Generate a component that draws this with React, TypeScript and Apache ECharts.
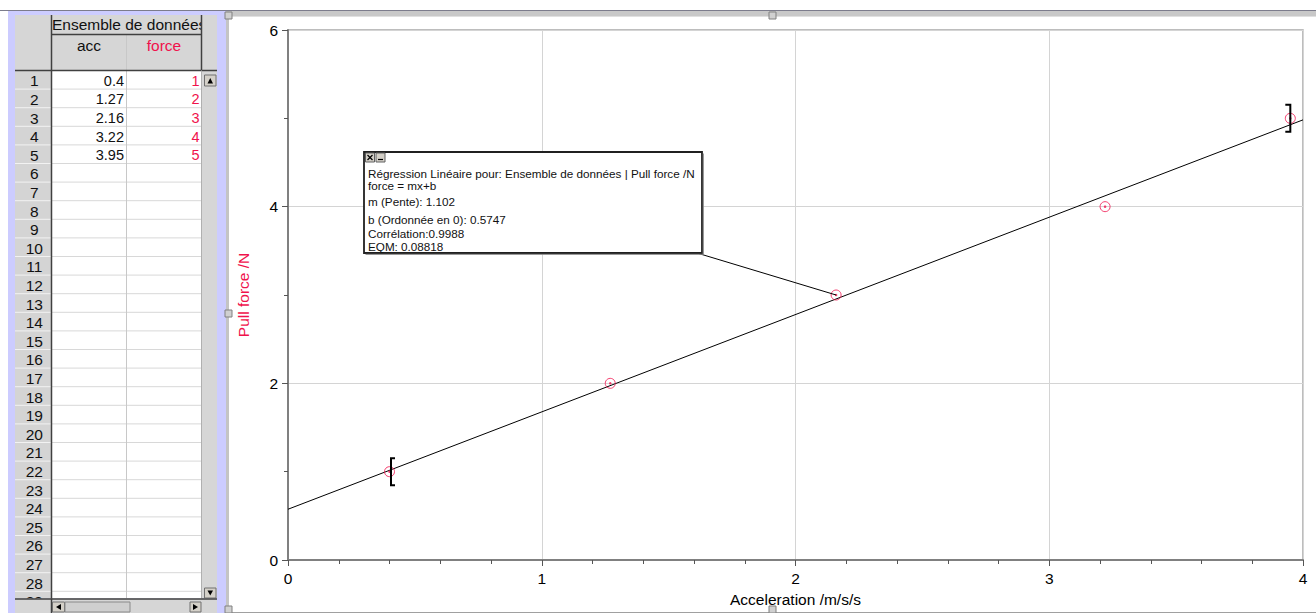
import React, { useEffect, useRef } from "react";
import * as echarts from "echarts";

// ---------- data ----------
const datasetName = "Ensemble de données";
const xColumn = "acc";
const yColumn = "force";
const acc = [0.4, 1.27, 2.16, 3.22, 3.95];
const force = [1, 2, 3, 4, 5];
const rowNumbers = [1, 2, 3, 4, 5, 6, 7, 8, 9, 10, 11, 12, 13, 14, 15, 16, 17, 18, 19, 20, 21, 22, 23, 24, 25, 26, 27, 28, 29];
const xAxisName = "Acceleration /m/s/s";
const yAxisName = "Pull force /N";
const xMin = 0;
const xMax = 4;
const xStep = 1;
const yMin = 0;
const yMax = 6;
const yStep = 2;
const fitSlope = 1.102;
const fitIntercept = 0.5747;
const fitCorrelation = 0.9988;
const fitRmse = 0.08818;
const annotatedPoint = 2;

const RED = "#f0124c";
const FONT = "'Liberation Sans', Arial, sans-serif";

function rect(x: number, y: number, w: number, h: number, fill: string, z = 10, stroke?: string, lw = 1) {
  return { type: "rect", z, silent: true, shape: { x, y, width: w, height: h }, style: { fill, stroke: stroke || null, lineWidth: lw } };
}
function line(x1: number, y1: number, x2: number, y2: number, stroke: string, lw = 1, z = 12) {
  return { type: "line", z, silent: true, shape: { x1, y1, x2, y2 }, style: { stroke, lineWidth: lw } };
}
function text(t: string, x: number, y: number, opts: any = {}, z = 14) {
  return {
    type: "text",
    z,
    silent: true,
    x,
    y,
    style: {
      text: t,
      fill: opts.fill || "#000",
      fontSize: opts.fontSize || 15,
      fontFamily: FONT,
      textAlign: opts.align || "left",
      textVerticalAlign: "middle",
    },
  };
}
function tri(points: number[][], z = 16) {
  return { type: "polygon", z, silent: true, shape: { points }, style: { fill: "#000" } };
}

function buildGraphic(pt: number[]) {
  const g: any[] = [];
  // ---- window chrome ----
  g.push(rect(8, 10, 218, 603, "#ccccff", 5));
  g.push(line(0, 10.5, 1316, 10.5, "#7c7c8c", 1, 6));
  g.push(rect(226, 11, 3, 602, "#c4c4c4", 6));
  g.push(rect(229, 11, 1087, 5, "#c8c8c8", 6));
  g.push(line(229, 16.5, 1316, 16.5, "#e0e0e0", 1, 6));
  g.push(line(229, 612.5, 1316, 612.5, "#a0a0a0", 1, 6));

  // ---- table ----
  const L = 15, RH = 51.5, AR = 126.5, FR = 201.5, SR = 217;
  const top = 15, mid = 34.5, hdrBot = 70.5, rowTop = 71, rowH = 18.6, bottom = 598.5;
  g.push(rect(L, top, SR - L, hdrBot - top, "#d6d6d6", 8));
  g.push(rect(L, rowTop, RH - L, bottom - rowTop, "#d4d4d4", 8));
  g.push(rect(RH, rowTop, FR - RH, bottom - rowTop, "#ffffff", 8));
  g.push(rect(FR, rowTop, SR - FR, bottom - rowTop, "#d6d6d6", 8));

  rowNumbers.forEach((n, i) => {
    const y0 = rowTop + i * rowH;
    const yb = y0 + rowH;
    if (yb < bottom) {
      g.push(line(L, yb - 0.5, RH, yb - 0.5, "#f2f2f2", 1, 9));
      g.push(line(RH, yb - 0.5, FR, yb - 0.5, "#d8d8d8", 1, 9));
    }
    g.push(text(String(n), (L + RH) / 2 + 1, y0 + rowH / 2 + 0.5, { fontSize: 15.5, align: "center", fill: "#111" }, 11));
    if (i < acc.length) {
      g.push(text(String(acc[i]), AR - 2.5, y0 + rowH / 2 + 0.5, { fontSize: 14.5, align: "right", fill: "#111" }, 11));
      g.push(text(String(force[i]), FR - 2, y0 + rowH / 2 + 0.5, { fontSize: 14.5, align: "right", fill: RED }, 11));
    }
  });
  g.push(line(AR, mid, AR, bottom, "#c8c8c8", 1, 9));
  // headers
  g.push(text(datasetName, RH + 0.5, 24.5, { fontSize: 15.5, fill: "#111" }, 11));
  g.push(rect(FR, top, SR - FR, mid - top, "#d6d6d6", 12));
  g.push(text(xColumn, (RH + AR) / 2, 45, { fontSize: 15.5, align: "center", fill: "#111" }, 11));
  g.push(text(yColumn, (AR + FR) / 2, 45, { fontSize: 15.5, align: "center", fill: RED }, 11));
  g.push(line(RH, mid, FR, mid, "#404040", 1.5, 13));
  g.push(line(L, hdrBot, SR, hdrBot, "#404040", 1.5, 13));
  g.push(line(RH, top, RH, 612, "#404040", 1.5, 13));
  g.push(line(FR, top, FR, hdrBot, "#404040", 1.5, 13));
  g.push(line(FR, hdrBot, FR, bottom, "#b0b0b0", 1, 13));
  // vertical scrollbar
  g.push(rect(204.5, 75, 11.5, 11, "#d4d0c8", 14, "#707070"));
  g.push(tri([[207.5, 83.5], [213, 83.5], [210.25, 78]]));
  g.push(rect(204.5, 588, 11.5, 10, "#d4d0c8", 14, "#707070"));
  g.push(tri([[207.5, 590.5], [213, 590.5], [210.25, 595.5]]));
  // horizontal scrollbar
  g.push(rect(L, bottom, SR - L, 613 - bottom, "#d6d6d6", 20));
  g.push(line(L, bottom + 0.5, SR, bottom + 0.5, "#404040", 1.5, 21));
  g.push(line(RH, bottom, RH, 613, "#404040", 1.5, 21));
  g.push(rect(52.5, 602, 12, 10, "#d4d0c8", 21, "#707070"));
  g.push(tri([[61, 604], [61, 610], [56, 607]], 22));
  g.push(rect(65, 602, 65, 10, "#cfcfcf", 21, "#8a8a8a"));
  g.push(rect(190, 602, 11, 10, "#d4d0c8", 21, "#707070"));
  g.push(tri([[193, 604], [193, 610], [198, 607]], 22));

  // ---- resize handles ----
  [[225, 12], [769, 12], [225, 310], [769, 606], [225, 606]].forEach(([x, y]) => {
    g.push(rect(x, y, 7, 7, "#d0d0d0", 30, "#808080"));
  });

  // ---- regression annotation ----
  const bx = 364, by = 152, bw = 338, bh = 101;
  g.push(line(bx + bw - 5, by + bh, pt[0], pt[1], "#000", 1, 90));
  g.push(rect(bx, by, bw, bh, "#ffffff", 100, "#202020", 1.8));
  g.push(line(bx + 1.5, by + bh + 1.3, bx + bw + 1.3, by + bh + 1.3, "#808080", 1, 100));
  g.push(line(bx + bw + 1.3, by + 1.5, bx + bw + 1.3, by + bh + 1.3, "#808080", 1, 100));
  g.push(rect(365.5, 153, 9, 9, "#d4d0c8", 101, "#606060"));
  g.push(line(367.5, 155, 372.5, 160, "#000", 1.2, 102));
  g.push(line(372.5, 155, 367.5, 160, "#000", 1.2, 102));
  g.push(rect(376, 153, 9, 9, "#d4d0c8", 101, "#606060"));
  g.push(line(378, 159.5, 383, 159.5, "#000", 1.2, 102));
  const lines = [
    `Régression Linéaire pour: ${datasetName} | ${yAxisName}`,
    `${yColumn} = mx+b`,
    `m (Pente): ${fitSlope}`,
    `b (Ordonnée en 0): ${fitIntercept}`,
    `Corrélation:${fitCorrelation}`,
    `EQM: ${fitRmse}`,
  ];
  const ys = [173, 185, 201.5, 219, 233, 246];
  lines.forEach((t, i) => g.push(text(t, 368, ys[i], { fontSize: 11.7, fill: "#111" }, 103)));
  return g;
}

export default function App() {
  const ref = useRef<HTMLDivElement>(null);
  useEffect(() => {
    document.body.style.margin = "0";
    const chart = echarts.init(ref.current!, undefined, { renderer: "svg" });
    const points = acc.map((x, i) => [x, force[i]]);
    const fitLine = [
      [xMin, fitSlope * xMin + fitIntercept],
      [xMax, fitSlope * xMax + fitIntercept],
    ];
    const brackets = [
      [acc[0], force[0], -1],
      [acc[acc.length - 1], force[force.length - 1], 1],
    ];
    const axisCommon = {
      axisLine: { show: true, onZero: false, lineStyle: { color: "#808080", width: 2 } },
      axisTick: { show: true, length: 6, lineStyle: { color: "#555555" } },
      splitLine: { show: true, lineStyle: { color: "#d4d4d4", width: 1 } },
      axisLabel: { color: "#000", fontSize: 15.5, fontFamily: FONT },
      nameTextStyle: { fontSize: 15.5, fontFamily: FONT },
    };
    chart.setOption({
      animation: false,
      backgroundColor: "#ffffff",
      textStyle: { fontFamily: FONT },
      grid: {
        left: 288,
        right: 13,
        top: 30,
        bottom: 53,
        outerBoundsMode: "none",
        containLabel: false,
        show: true,
        borderColor: "#a8a8a8",
        borderWidth: 1.5,
        backgroundColor: "rgba(0,0,0,0)",
      },
      xAxis: {
        type: "value",
        min: xMin,
        max: xMax,
        interval: xStep,
        name: xAxisName,
        nameLocation: "middle",
        nameGap: 31,
        ...axisCommon,
        axisLabel: { ...axisCommon.axisLabel, margin: 10 },
        nameTextStyle: { ...axisCommon.nameTextStyle, color: "#000" },
        minorTick: { show: true, splitNumber: 5, length: 4, lineStyle: { color: "#555555" } },
      },
      yAxis: {
        type: "value",
        min: yMin,
        max: yMax,
        interval: yStep,
        name: yAxisName,
        nameLocation: "middle",
        nameGap: 37,
        ...axisCommon,
        axisLabel: { ...axisCommon.axisLabel, margin: 10 },
        nameTextStyle: { ...axisCommon.nameTextStyle, color: RED },
        minorTick: { show: true, splitNumber: 2, length: 4, lineStyle: { color: "#555555" } },
      },
      series: [
        {
          type: "line",
          data: fitLine,
          showSymbol: false,
          symbol: "none",
          lineStyle: { color: "#000", width: 1 },
          z: 3,
        },
        {
          type: "scatter",
          data: points,
          symbol: "circle",
          symbolSize: 10,
          itemStyle: { color: "rgba(255,255,255,0)", borderColor: RED, borderWidth: 1 },
          z: 4,
        },
        {
          type: "scatter",
          data: points,
          symbol: "circle",
          symbolSize: 2.5,
          itemStyle: { color: RED },
          z: 5,
        },
        {
          type: "custom",
          data: brackets,
          z: 6,
          renderItem: (params: any, api: any) => {
            const p = api.coord([api.value(0), api.value(1)]);
            const side = api.value(2);
            const h = 13.5;
            const vx = side < 0 ? p[0] + 1.5 : p[0];
            const tx = side < 0 ? vx + 4 : vx - 5;
            return {
              type: "polyline",
              shape: { points: [[tx, p[1] - h], [vx, p[1] - h], [vx, p[1] + h], [tx, p[1] + h]] },
              style: { stroke: "#000", lineWidth: 2, fill: "none" },
            };
          },
        },
      ],
    });
    const pt = chart.convertToPixel({ gridIndex: 0 }, [acc[annotatedPoint], force[annotatedPoint]]) as number[];
    chart.setOption({ graphic: buildGraphic(pt) });
    return () => chart.dispose();
  }, []);
  return <div ref={ref} style={{ position: "fixed", left: 0, top: 0, width: 1316, height: 613, background: "#fff" }} />;
}
